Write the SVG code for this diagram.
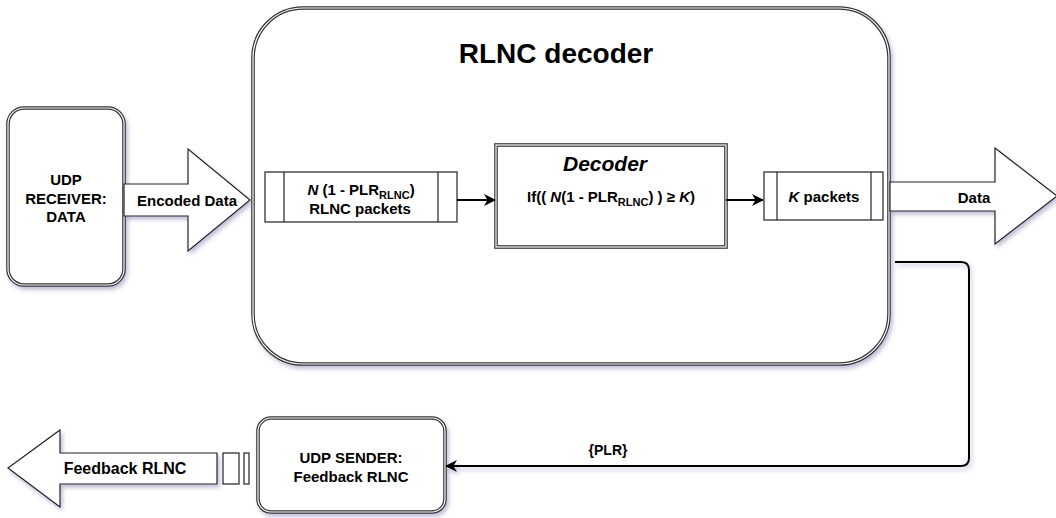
<svg xmlns="http://www.w3.org/2000/svg" width="1056" height="518" viewBox="0 0 1056 518">
  <style>
    text { font-family: "Liberation Sans", Arial, sans-serif; font-weight: bold; fill: #000; text-anchor: middle; }
    .t15 { font-size: 15px; }
    .sub { font-size: 11px; }
    .dbl-outer { fill: #fff; stroke: #333; stroke-width: 3.6; }
    .dbl-inner { fill: none; stroke: #fff; stroke-width: 1.2; }
    .plain { fill: #fff; stroke: #222; stroke-width: 1.2; }
    .conn { fill: none; stroke: #000; stroke-width: 2; }
  </style>
  <defs>
    <filter id="shadow" x="-10%" y="-10%" width="130%" height="130%">
      <feDropShadow dx="2" dy="3" stdDeviation="2" flood-color="#6f6fa0" flood-opacity="0.45"/>
    </filter>
    <marker id="arrow" viewBox="0 0 12 12" refX="11" refY="6" markerWidth="12" markerHeight="12" markerUnits="userSpaceOnUse" orient="auto">
      <path d="M0,0 L12,6 L0,12 L3.5,6 Z" fill="#000"/>
    </marker>
  </defs>

  <rect width="1056" height="518" fill="#fff"/>

  <!-- RLNC decoder container -->
  <g id="rlnc-decoder">
    <rect class="dbl-outer" x="253" y="8" width="636" height="356" rx="50" ry="50" filter="url(#shadow)"/>
    <rect class="dbl-inner" x="253" y="8" width="636" height="356" rx="50" ry="50"/>
    <text x="556" y="63" style="font-size:28px">RLNC decoder</text>
  </g>

  <!-- UDP receiver -->
  <g id="udp-receiver">
    <rect class="dbl-outer" x="8" y="108" width="116" height="177" rx="16" ry="16" filter="url(#shadow)"/>
    <rect class="dbl-inner" x="8" y="108" width="116" height="177" rx="16" ry="16"/>
    <text class="t15" x="66" y="185">UDP</text>
    <text class="t15" x="66" y="204">RECEIVER:</text>
    <text class="t15" x="66" y="222">DATA</text>
  </g>

  <!-- Encoded data block arrow -->
  <g id="encoded-data">
    <polygon class="plain" points="124,184 188,184 188,149 250,200 188,251 188,216 124,216" filter="url(#shadow)"/>
    <text class="t15" x="187" y="206">Encoded Data</text>
  </g>

  <!-- Received RLNC packets buffer -->
  <g id="rlnc-packets">
    <rect class="plain" x="265" y="172" width="192" height="50"/>
    <line x1="284" y1="172" x2="284" y2="222" stroke="#222" stroke-width="1.2"/>
    <line x1="438" y1="172" x2="438" y2="222" stroke="#222" stroke-width="1.2"/>
    <text class="t15" x="361" y="195"><tspan font-style="italic">N</tspan> (1 - PLR<tspan class="sub" dy="4">RLNC</tspan><tspan dy="-4">)</tspan></text>
    <text class="t15" x="360" y="214">RLNC packets</text>
  </g>

  <!-- Decoder -->
  <g id="decoder">
    <rect class="dbl-outer" x="496" y="145" width="230" height="102"/>
    <rect class="dbl-inner" x="496" y="145" width="230" height="102"/>
    <text x="605" y="171" style="font-size:21px;font-style:italic">Decoder</text>
    <text class="t15" x="611" y="202">If(( <tspan font-style="italic">N</tspan>(1 - PLR<tspan class="sub" dy="4">RLNC</tspan><tspan dy="-4">) ) ≥ </tspan><tspan font-style="italic">K</tspan>)</text>
  </g>

  <!-- K packets buffer -->
  <g id="k-packets">
    <rect class="plain" x="764" y="172" width="119" height="48"/>
    <line x1="777" y1="172" x2="777" y2="220" stroke="#222" stroke-width="1.2"/>
    <line x1="871" y1="172" x2="871" y2="220" stroke="#222" stroke-width="1.2"/>
    <text class="t15" x="824" y="202"><tspan font-style="italic">K</tspan> packets</text>
  </g>

  <!-- Output data block arrow -->
  <g id="data-out">
    <polygon class="plain" points="890,182 995,182 995,148 1057,196 995,244 995,211 890,211" filter="url(#shadow)"/>
    <text class="t15" x="974" y="203">Data</text>
  </g>

  <!-- UDP sender -->
  <g id="udp-sender">
    <rect class="dbl-outer" x="258" y="418" width="187" height="94" rx="13" ry="13" filter="url(#shadow)"/>
    <rect class="dbl-inner" x="258" y="418" width="187" height="94" rx="13" ry="13"/>
    <text class="t15" x="351" y="463">UDP SENDER:</text>
    <text class="t15" x="351" y="482">Feedback RLNC</text>
  </g>

  <!-- Feedback block arrow with packet marks -->
  <g id="feedback-rlnc">
    <polygon class="plain" points="217,453 60,453 60,430 8,468 60,507 60,484 217,484" filter="url(#shadow)"/>
    <rect class="plain" x="223" y="453" width="16" height="31"/>
    <rect class="plain" x="244" y="453" width="5" height="31"/>
    <text x="125" y="474" style="font-size:16px">Feedback RLNC</text>
  </g>

  <!-- Connectors -->
  <g id="connectors">
    <line class="conn" x1="457" y1="200" x2="495" y2="200" marker-end="url(#arrow)"/>
    <line class="conn" x1="726" y1="200" x2="763" y2="200" marker-end="url(#arrow)"/>
    <path class="conn" d="M895,262 H961 Q969,262 969,270 V458 Q969,466 961,466 H446" marker-end="url(#arrow)" filter="url(#shadow)"/>
    <text x="608" y="455" style="font-size:14px">{PLR}</text>
  </g>
</svg>
